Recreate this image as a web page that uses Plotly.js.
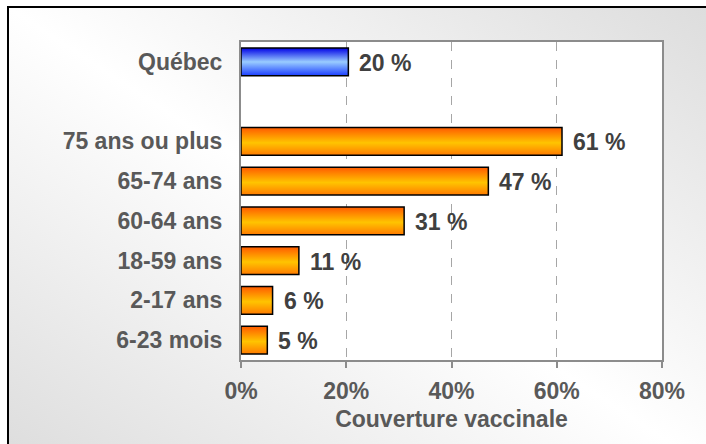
<!DOCTYPE html>
<html>
<head>
<meta charset="utf-8">
<script src="https://cdn.plot.ly/plotly-3.0.1.min.js"></script>
<style>
html, body { margin:0; padding:0; width:706px; height:444px; overflow:hidden; background:#fff; }
#frame { position:absolute; left:7px; top:6px; width:760px; height:500px; border:2px solid #000;
  background: linear-gradient(to top right, #d9d9d9 0%, #ffffff 50%, #dadada 100%); }
#chart { position:absolute; left:0; top:0; width:706px; height:444px; }
</style>
</head>
<body>
<div id="frame"></div>
<div id="chart"></div>
<script>
// Data
const provinceLabel = ['Québec'];
const provinceValue = [20.4];
const ageGroups = ['75 ans ou plus', '65-74 ans', '60-64 ans', '18-59 ans', '2-17 ans', '6-23 mois'];
const ageValues = [61, 47, 31, 11, 6, 5];
const categoryOrder = ['Québec', ' ', '75 ans ou plus', '65-74 ans', '60-64 ans', '18-59 ans', '2-17 ans', '6-23 mois'];
const xTickVals = [0, 20, 40, 60, 80];
const xTickText = ['0%', '20%', '40%', '60%', '80%'];

const fontFam = '"Liberation Sans", Arial, sans-serif';
const FS = 23;

const traces = [
  { type:'bar', orientation:'h', x: provinceValue, y: provinceLabel,
    marker:{ color:'#3355ff', line:{ color:'#000', width:1.5 } }, hoverinfo:'skip' },
  { type:'bar', orientation:'h', x: ageValues, y: ageGroups,
    marker:{ color:'#ff9900', line:{ color:'#000', width:1.5 } }, hoverinfo:'skip' }
];

const allLabels = provinceLabel.concat(ageGroups);
const allValues = provinceValue.concat(ageValues);
const annotations = allLabels.map((c, i) => ({
  x: allValues[i], y: c, xref:'x', yref:'y', xanchor:'left', yanchor:'middle',
  xshift: 9, yshift: -1, showarrow:false, text: Math.round(allValues[i]) + ' %',
  font:{ family: fontFam, size:FS, color:'#404040', weight:'bold' }
}));

const layout = {
  width:706, height:444,
  margin:{ l:241, r:44, t:42, b:84 },
  paper_bgcolor:'rgba(0,0,0,0)', plot_bgcolor:'#ffffff',
  barmode:'overlay', bargap:0.3, showlegend:false,
  font:{ family: fontFam, size:FS, color:'#595959', weight:'bold' },
  xaxis:{
    range:[0, 80], tickvals: xTickVals, ticktext: xTickText,
    ticks:'outside', ticklen:6, tickwidth:2, tickcolor:'#8c8c8c',
    showline:true, linecolor:'#8c8c8c', linewidth:2, mirror:true,
    showgrid:true, gridcolor:'#a6a6a6', griddash:'dash', gridwidth:1,
    zeroline:false, ticklabelstandoff:3,
    tickfont:{ family: fontFam, size:FS, color:'#595959', weight:'bold' },
    title:{ text:'Couverture vaccinale', standoff:8,
      font:{ family: fontFam, size:FS, color:'#595959', weight:'bold' } },
    fixedrange:true
  },
  yaxis:{
    type:'category', categoryorder:'array', categoryarray: categoryOrder,
    range:[categoryOrder.length - 0.5, -0.5],
    tickvals: categoryOrder, ticktext: categoryOrder,
    ticks:'', showline:true, linecolor:'#8c8c8c', linewidth:2, mirror:true,
    showgrid:false, zeroline:false, ticklabelstandoff:12,
    tickfont:{ family: fontFam, size:FS, color:'#595959', weight:'bold' },
    fixedrange:true
  },
  annotations: annotations
};

Plotly.newPlot('chart', traces, layout, { staticPlot:true, displayModeBar:false }).then(gd => {
  const svg = gd.querySelector('svg.main-svg');
  const ns = 'http://www.w3.org/2000/svg';
  let defs = svg.querySelector('defs');
  if (!defs) { defs = document.createElementNS(ns, 'defs'); svg.insertBefore(defs, svg.firstChild); }
  function grad(id, stops) {
    const g = document.createElementNS(ns, 'linearGradient');
    g.setAttribute('id', id); g.setAttribute('x1','0'); g.setAttribute('y1','0');
    g.setAttribute('x2','0'); g.setAttribute('y2','1');
    stops.forEach(s => {
      const st = document.createElementNS(ns, 'stop');
      st.setAttribute('offset', s[0]); st.setAttribute('stop-color', s[1]);
      g.appendChild(st);
    });
    defs.appendChild(g);
  }
  grad('gBlue', [['0','#0000e6'],['0.5','#99ccff'],['1','#1a3cff']]);
  grad('gOrange', [['0','#ff5a00'],['0.55','#ffc400'],['1','#ff7a00']]);
  const tr = gd.querySelectorAll('.barlayer .trace');
  const ids = ['gBlue', 'gOrange'];
  tr.forEach((t, i) => {
    t.querySelectorAll('path').forEach(p => { p.style.fill = 'url(#' + ids[i] + ')'; });
  });
});
</script>
</body>
</html>
